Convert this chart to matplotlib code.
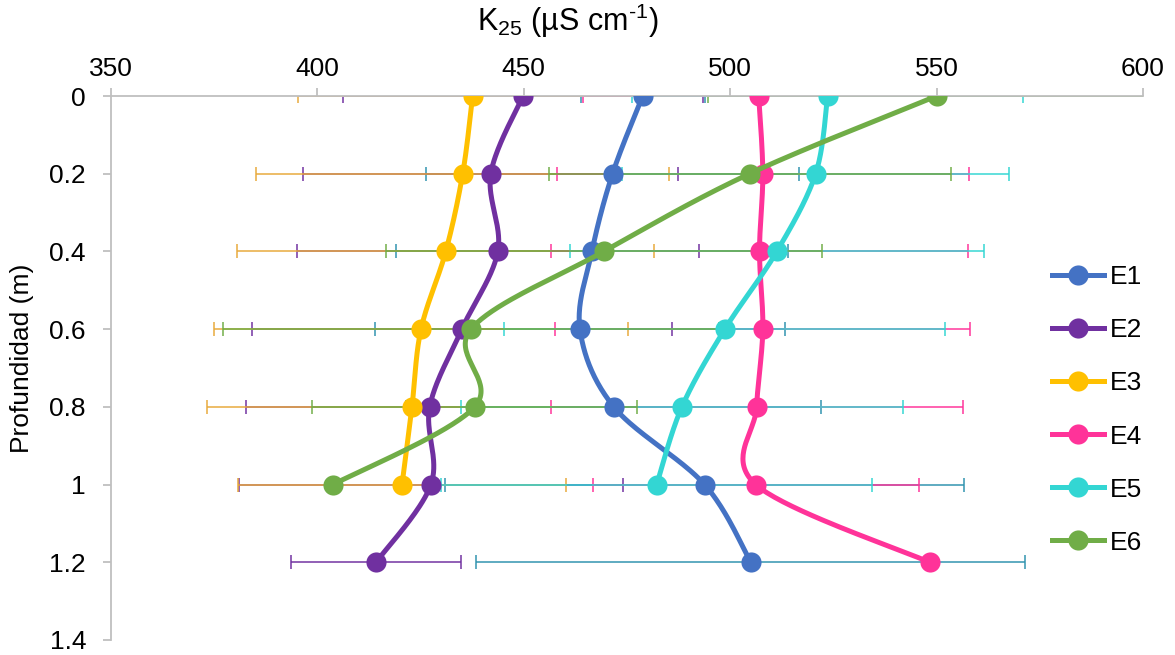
import numpy as np
import matplotlib
matplotlib.use("Agg")
import matplotlib.pyplot as plt
from matplotlib.lines import Line2D
from matplotlib.ticker import FuncFormatter

plt.rcParams['font.family'] = ['Liberation Sans', 'DejaVu Sans']
plt.rcParams['mathtext.fontset'] = 'custom'
plt.rcParams['mathtext.rm'] = 'Liberation Sans'
plt.rcParams['mathtext.it'] = 'Liberation Sans'

# Depth levels (m)
depth = [0.0, 0.2, 0.4, 0.6, 0.8, 1.0, 1.2]

# Mean conductivity K25 (µS/cm) per station and depth
E1 = [478.8, 471.5, 466.5, 463.6, 471.8, 493.8, 505.0]
E2 = [449.8, 442.0, 443.7, 435.0, 427.2, 427.5, 414.2]
E3 = [437.6, 435.2, 431.1, 425.1, 422.9, 420.5]
E4 = [506.9, 507.9, 507.1, 507.9, 506.4, 506.2, 548.3]
E5 = [523.6, 520.7, 511.3, 498.7, 488.3, 482.2]
E6 = [550.0, 504.7, 469.4, 437.2, 438.1, 403.8]

# Standard deviation per station and depth
E1_sd = [15.0, 45.1, 47.5, 49.7, 50.3, 62.9, 66.5]
E2_sd = [43.6, 45.4, 48.7, 50.8, 44.6, 46.6, 20.5]
E3_sd = [42.4, 50.0, 50.5, 50.2, 49.7, 39.7]
E4_sd = [42.5, 49.9, 50.5, 50.3, 49.9, 39.5, 0.0]
E5_sd = [47.3, 46.8, 50.1, 53.4, 53.6, 52.2]
E6_sd = [55.4, 48.7, 52.9, 60.0, 39.3, 0.0]

labels = ["E1", "E2", "E3", "E4", "E5", "E6"]
series = [E1, E2, E3, E4, E5, E6]
errors = [E1_sd, E2_sd, E3_sd, E4_sd, E5_sd, E6_sd]
colors = ["#4472C4", "#7030A0", "#FFC000", "#FF3399", "#33D6D3", "#70AD47"]
err_colors = ["#2F93AE", "#7030A0", "#E8A93A", "#FF3399", "#33D6D3", "#70AD47"]

x_ticks = [350, 400, 450, 500, 550, 600]
y_ticks = [0, 0.2, 0.4, 0.6, 0.8, 1.0, 1.2, 1.4]

FS = 19


def smooth(xs, ys, n=40):
    """Catmull-Rom style Bezier smoothing through the given points."""
    p = np.column_stack([xs, ys]).astype(float)
    m = len(p)
    ext = np.vstack([p[0], p, p[-1]])
    t = np.linspace(0, 1, n)[:, None]
    out = []
    for i in range(m - 1):
        p0, p1, p2, p3 = ext[i], ext[i + 1], ext[i + 2], ext[i + 3]
        c1 = p1 + (p2 - p0) / 6.0
        c2 = p2 - (p3 - p1) / 6.0
        seg = ((1 - t) ** 3) * p1 + 3 * ((1 - t) ** 2) * t * c1 \
            + 3 * (1 - t) * t ** 2 * c2 + t ** 3 * p2
        out.append(seg if i == 0 else seg[1:])
    out = np.vstack(out)
    return out[:, 0], out[:, 1]


fig = plt.figure(figsize=(11.75, 6.55), dpi=100)
ax = fig.add_axes([111 / 1175, 1 - 640 / 655, (1143 - 111) / 1175, (640 - 96) / 655])

# error bars underneath everything
for vals, sd, ec in zip(series, errors, err_colors):
    d = depth[:len(vals)]
    ax.errorbar(vals, d, xerr=sd, fmt='none', ecolor=ec, elinewidth=1.2,
                capsize=5, capthick=1.2, zorder=2, alpha=0.9)

# smoothed lines with markers, one station after another
for k, (vals, col) in enumerate(zip(series, colors)):
    d = depth[:len(vals)]
    sx, sy = smooth(vals, d)
    ax.plot(sx, sy, color=col, lw=3.6, solid_capstyle='round', zorder=3 + k)
    ax.plot(vals, d, 'o', color=col, ms=14.5, mec='none', zorder=3 + k)

ax.set_xlim(350, 600)
ax.set_ylim(1.4, 0)
ax.set_xticks(x_ticks)
ax.set_yticks(y_ticks)
ax.yaxis.set_major_formatter(FuncFormatter(lambda v, p: f"{v:g}"))

ax.xaxis.set_ticks_position('top')
ax.xaxis.set_label_position('top')
for s in ['right', 'bottom']:
    ax.spines[s].set_visible(False)
for s in ['left', 'top']:
    ax.spines[s].set_color('#BFBFBF')
    ax.spines[s].set_linewidth(1.3)
ax.tick_params(axis='both', colors='#BFBFBF', labelcolor='black',
               labelsize=FS, length=6, width=1.3, direction='out')
ax.tick_params(axis='x', pad=5)
ax.tick_params(axis='y', pad=12)

ax.set_xlabel(r"K$_{\mathregular{25}}$ (µS cm$^{\mathregular{‐1}}$)", fontsize=22)
ax.xaxis.set_label_coords((568 - 111) / 1032, 1 + (96 - 21) / 544)
ax.xaxis.label.set_va('center')
ax.set_ylabel("Profundidad (m)", fontsize=FS)
ax.yaxis.set_label_coords(-(111 - 22) / 1032, (640 - 358) / 544)
ax.yaxis.label.set_va('center')

handles = [Line2D([], [], color=c, lw=3.6, marker='o', ms=14.5, mec='none')
           for c in colors]
fig.legend(handles, labels, loc='center left', bbox_to_anchor=(1041 / 1175, 1 - 410 / 655),
           frameon=False, fontsize=FS, handlelength=2.0, handletextpad=0.2,
           labelspacing=1.1, borderaxespad=0)

fig.savefig("out.png", dpi=100)
